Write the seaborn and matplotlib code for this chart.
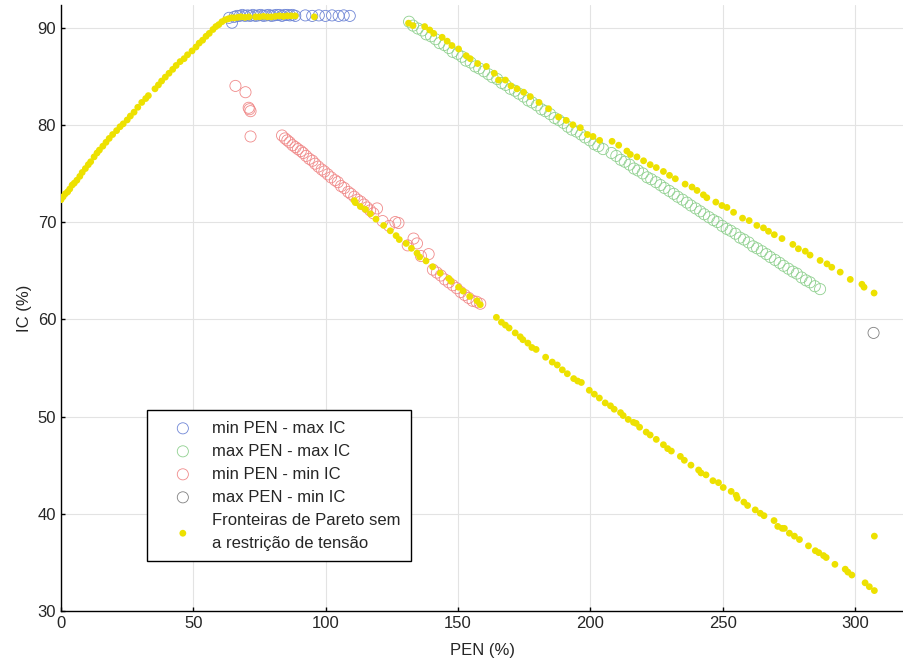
import matplotlib
matplotlib.use("Agg")
import matplotlib.pyplot as plt
import seaborn as sns
import pandas as pd

sns.set_style("whitegrid")
plt.rcParams['font.family'] = ['Liberation Sans', 'DejaVu Sans']

# ---------------------------------------------------------------------------
# data
# ---------------------------------------------------------------------------

# min PEN - max IC (blue open circles)
blue_pen = [63.5, 64.6, 65.5, 66.5, 67.5, 68.5, 69.5, 70.5, 71.5, 72.5, 73.5, 74.5,
            75.5, 76.5, 77.5, 78.5, 79.5, 80.5, 81.5, 82.5, 83.5, 84.5, 85.5, 86.5,
            87.5, 88.5, 92.3, 94.9, 97.4, 99.9, 102.4, 104.9, 106.8, 109.1]
blue_ic = [91.0, 90.5, 91.1, 91.2, 91.2, 91.3, 91.2, 91.25, 91.2, 91.3, 91.2, 91.25,
           91.3, 91.2, 91.25, 91.3, 91.2, 91.25, 91.3, 91.3, 91.2, 91.3, 91.3, 91.25,
           91.3, 91.2, 91.25, 91.2, 91.25, 91.2, 91.25, 91.2, 91.25, 91.2]

# max PEN - max IC (green open circles)
green_pen = [131.5, 133.0, 134.8, 136.5, 138.0, 139.8, 141.5, 143.0, 144.8, 146.5,
             148.0, 149.8, 151.5, 153.0, 154.8, 156.5, 158.0, 159.8, 161.5, 163.0,
             164.8, 166.5, 168.0, 169.8, 171.5, 173.0, 174.8, 176.5, 178.0, 179.8,
             181.5, 183.0, 184.8, 186.5, 188.0, 189.8, 191.5, 193.0, 194.8, 196.5,
             198.0, 199.8, 201.5, 203.0, 204.8, 208.0, 209.8, 211.5, 213.0, 214.8,
             216.5, 218.0, 219.8, 221.5, 223.0, 224.8, 226.5, 228.0, 229.8, 231.5,
             233.0, 234.8, 236.5, 238.0, 239.8, 241.5, 243.0, 244.8, 246.5, 248.0,
             249.8, 251.5, 253.0, 254.8, 256.5, 258.0, 259.8, 261.5, 263.0, 264.8,
             266.5, 268.0, 269.8, 271.5, 273.0, 274.8, 276.5, 278.0, 279.8, 281.5,
             283.0, 284.8, 286.8]
green_ic = [90.6, 90.2, 89.9, 89.7, 89.3, 89.1, 88.8, 88.4, 88.2, 87.9,
            87.5, 87.3, 87.0, 86.6, 86.4, 86.0, 85.8, 85.5, 85.2, 84.9,
            84.7, 84.3, 84.1, 83.7, 83.5, 83.2, 82.9, 82.5, 82.3, 82.0,
            81.6, 81.4, 81.1, 80.7, 80.5, 80.2, 79.8, 79.5, 79.3, 79.0,
            78.7, 78.4, 78.0, 77.8, 77.5, 77.1, 76.8, 76.4, 76.2, 75.9,
            75.5, 75.3, 75.0, 74.6, 74.4, 74.1, 73.8, 73.5, 73.2, 72.9,
            72.6, 72.3, 72.0, 71.7, 71.4, 71.1, 70.8, 70.5, 70.2, 70.0,
            69.6, 69.3, 69.1, 68.8, 68.4, 68.2, 67.9, 67.5, 67.3, 67.0,
            66.7, 66.4, 66.1, 65.8, 65.5, 65.2, 64.9, 64.7, 64.3, 64.0,
            63.8, 63.4, 63.1]

# min PEN - min IC (red open circles)
red_pen = [65.9, 69.7, 70.9, 71.2, 71.6, 71.6,
           83.5, 84.6, 85.5, 86.4, 87.5, 88.6, 89.5, 90.6, 91.5, 92.6, 93.8, 95.0,
           96.0, 97.2, 98.5, 99.5, 100.8, 102.0, 103.5, 104.6, 105.8, 107.0, 108.5,
           109.5, 110.8, 112.0, 113.2, 114.5, 115.6, 116.8, 118.0, 119.4, 121.5,
           124.0, 126.3, 127.5, 131.0, 133.2, 134.5, 136.0, 138.9, 140.5, 142.0,
           143.5, 145.0, 146.5, 148.0, 149.5, 151.0, 152.5, 154.0, 155.5, 157.0,
           158.4]
red_ic = [84.0, 83.35, 81.75, 81.6, 81.4, 78.8,
          78.9, 78.6, 78.4, 78.2, 77.9, 77.7, 77.5, 77.3, 77.1, 76.8, 76.5, 76.3,
          76.0, 75.7, 75.4, 75.2, 74.9, 74.6, 74.3, 74.1, 73.7, 73.5, 73.1,
          72.9, 72.6, 72.3, 72.1, 71.8, 71.5, 71.2, 70.9, 71.4, 70.1,
          69.6, 70.0, 69.9, 67.6, 68.3, 67.8, 66.5, 66.7, 65.1, 64.8,
          64.5, 64.1, 63.8, 63.5, 63.2, 62.8, 62.5, 62.2, 61.9, 61.8,
          61.6]

# max PEN - min IC (gray open circle)
gray_pen = [307.0]
gray_ic = [58.6]

# Pareto fronts without the voltage constraint (yellow dots)
pareto_pen = [
    0.0, 0.8, 1.6, 2.5, 3.3, 4.2, 5.0, 6.0, 7.1, 8.0, 9.2, 10.3, 11.2, 12.5, 13.6,
    14.5, 15.8, 17.0, 18.2, 19.5, 21.0, 22.3, 23.5, 25.0, 26.2, 27.6, 29.0, 30.5,
    32.0, 33.0, 35.5, 36.8, 38.0, 39.4, 40.8, 42.2, 43.5, 45.0, 46.5, 47.8, 49.5,
    51.0, 52.2, 53.5, 54.8, 56.0, 57.4, 58.5, 59.6, 60.8, 62.0, 63.2, 64.4,
    65.5, 66.8, 68.0, 69.5, 71.0, 73.5, 75.0, 76.5, 78.0, 79.5, 81.0, 82.5, 84.0,
    85.5, 87.0, 88.5, 95.7,
    131.3, 133.0, 137.4, 139.3, 140.8, 144.0, 145.9, 147.7, 150.2, 153.1, 154.6,
    157.4, 160.7, 163.7, 165.3, 167.9, 170.0, 172.3, 174.8, 177.3, 180.6, 184.2,
    188.0, 190.9, 193.4, 196.2, 198.9, 201.0, 203.5, 208.2, 210.7, 213.8, 215.1,
    217.6, 220.1, 222.6, 224.9, 227.6, 229.9, 232.1, 235.8, 238.4, 240.3, 242.7,
    244.0, 247.4, 249.7, 251.6, 254.1, 257.5, 260.0, 262.9, 265.4, 267.3, 269.5,
    272.4, 276.5, 278.6, 281.2, 283.0, 286.8, 289.4, 291.2, 294.4, 298.2, 302.6,
    303.4, 307.2,
    110.8, 111.2, 113.1, 115.0, 116.9, 119.0, 121.9, 124.4, 126.6, 127.8, 130.4,
    132.4, 134.5, 135.5, 137.9, 140.4, 143.3, 146.5, 147.4, 150.2, 151.9, 154.4,
    157.2, 158.4, 164.5, 166.4, 167.9, 169.3, 171.6, 173.5, 174.5, 176.4, 177.9,
    179.5, 183.1, 185.6, 187.5, 189.4, 191.3, 193.7, 195.2, 196.6, 199.6, 201.5,
    203.4, 205.6, 207.6, 209.0, 211.4, 212.4, 214.3, 216.3, 217.3, 218.6, 221.1,
    222.6, 224.9, 227.6, 229.2, 230.6, 234.0, 235.5, 238.0, 240.9, 241.8, 243.7,
    246.3, 248.4, 250.2, 253.2, 255.1, 255.5, 258.0, 259.4, 262.3, 264.2, 265.6,
    269.4, 270.8, 272.5, 273.3, 275.2, 277.1, 279.0, 282.4, 285.0, 286.3, 288.1,
    289.1, 292.4, 296.3, 297.3, 298.8, 303.8, 305.4, 307.3, 307.3]
pareto_ic = [
    72.3, 72.6, 72.9, 73.1, 73.4, 73.8, 74.0, 74.3, 74.7, 75.1, 75.5, 75.9, 76.2,
    76.7, 77.1, 77.4, 77.8, 78.2, 78.6, 79.0, 79.4, 79.8, 80.1, 80.5, 80.9, 81.3,
    81.8, 82.3, 82.7, 83.0, 83.7, 84.1, 84.5, 84.9, 85.3, 85.7, 86.1, 86.5, 86.8,
    87.2, 87.6, 88.0, 88.4, 88.7, 89.1, 89.4, 89.8, 90.1, 90.3, 90.6, 90.8, 90.9,
    91.0,
    91.0, 91.05, 91.1, 91.05, 91.1, 91.1, 91.1, 91.15, 91.1, 91.1, 91.15, 91.2,
    91.15, 91.2, 91.2, 91.2, 91.1,
    90.45, 90.2, 90.1, 89.75, 89.4, 89.0, 88.6, 88.15, 87.8, 87.1, 86.8, 86.3,
    86.0, 85.3, 84.6, 84.6, 84.0, 83.7, 83.35, 82.9, 82.3, 81.65, 80.8, 80.45,
    80.0, 79.7, 79.0, 78.8, 78.4, 78.3, 77.9, 77.3, 76.95, 76.7, 76.3, 75.9,
    75.6, 75.2, 74.8, 74.45, 73.9, 73.6, 73.25, 72.8, 72.5, 72.05, 71.7, 71.5,
    71.0, 70.4, 70.15, 69.65, 69.4, 69.05, 68.7, 68.3, 67.7, 67.25, 67.0, 66.6,
    66.05, 65.7, 65.35, 64.85, 64.1, 63.6, 63.3, 62.7,
    72.2, 72.0, 71.6, 71.3, 70.85, 70.3, 69.65, 69.1, 68.6, 68.2, 67.8, 67.3,
    66.8, 66.4, 66.0, 65.4, 64.75, 64.2, 63.9, 63.3, 62.9, 62.35, 61.9, 61.5,
    60.2, 59.7, 59.4, 59.1, 58.6, 58.2, 57.9, 57.55, 57.1, 56.9, 56.1, 55.6,
    55.3, 54.8, 54.4, 53.9, 53.65, 53.5, 52.7, 52.3, 51.9, 51.4, 51.1, 50.75,
    50.4, 50.1, 49.7, 49.4, 49.3, 48.9, 48.4, 48.1, 47.65, 47.1, 46.7, 46.45,
    45.9, 45.5, 45.0, 44.5, 44.2, 44.0, 43.4, 43.2, 42.7, 42.3, 41.9, 41.6,
    41.2, 40.85, 40.4, 40.05, 39.8, 39.3, 38.7, 38.5, 38.5, 38.0, 37.7, 37.35,
    36.7, 36.2, 36.0, 35.7, 35.5, 34.8, 34.3, 34.0, 33.7, 32.9, 32.5, 32.1, 37.7]

labels = ["min PEN - max IC", "max PEN - max IC", "min PEN - min IC",
          "max PEN - min IC", "Fronteiras de Pareto sem\na restrição de tensão"]


def main():
    fig = plt.figure(figsize=(9.04, 6.65), dpi=100)
    ax = fig.add_axes([0.0675, 0.0812, 0.9325, 0.911])

    circle_sets = [
        (blue_pen, blue_ic, "#6f86d6"),
        (green_pen, green_ic, "#8fd08f"),
        (red_pen, red_ic, "#f08a8a"),
        (gray_pen, gray_ic, "#808080"),
    ]
    for (pen, ic, col), lab in zip(circle_sets, labels[:4]):
        df = pd.DataFrame({"PEN": pen, "IC": ic})
        sns.scatterplot(data=df, x="PEN", y="IC", ax=ax, marker="o", s=64,
                        color=col, facecolor="none", edgecolor=col,
                        linewidth=0.6, label=lab, legend=False)

    df_p = pd.DataFrame({"PEN": pareto_pen, "IC": pareto_ic})
    sns.scatterplot(data=df_p, x="PEN", y="IC", ax=ax, marker="o", s=24,
                    color="#ede100", edgecolor="none", linewidth=0,
                    label=labels[4], legend=False, zorder=3)

    ax.set_xlim(0, 318.5)
    ax.set_ylim(30, 92.3)
    ax.set_xticks([0, 50, 100, 150, 200, 250, 300])
    ax.set_yticks([30, 40, 50, 60, 70, 80, 90])
    ax.grid(True, color="#e3e3e3", linewidth=0.8)
    ax.set_axisbelow(True)

    for side in ["top", "right"]:
        ax.spines[side].set_visible(False)
    for side in ["left", "bottom"]:
        ax.spines[side].set_color("black")
        ax.spines[side].set_linewidth(1.0)

    ax.tick_params(direction="in", length=3, width=1, colors="black",
                   labelcolor="#262626", labelsize=12, left=True, bottom=True)
    ax.set_xlabel("PEN (%)", fontsize=12, color="#262626", labelpad=9)
    ax.set_ylabel("IC (%)", fontsize=12, color="#262626", labelpad=4)

    leg = ax.legend(loc="upper left", bbox_to_anchor=(0.102, 0.332),
                    borderaxespad=0, fontsize=12, frameon=True, fancybox=False,
                    framealpha=1, edgecolor="black", borderpad=0.65,
                    handlelength=3.0, handletextpad=0.25, labelspacing=0.48)
    leg.get_frame().set_linewidth(1.0)
    leg.get_texts()[4].set_linespacing(1.65)

    fig.savefig("out.png", dpi=100)


if __name__ == "__main__":
    main()
